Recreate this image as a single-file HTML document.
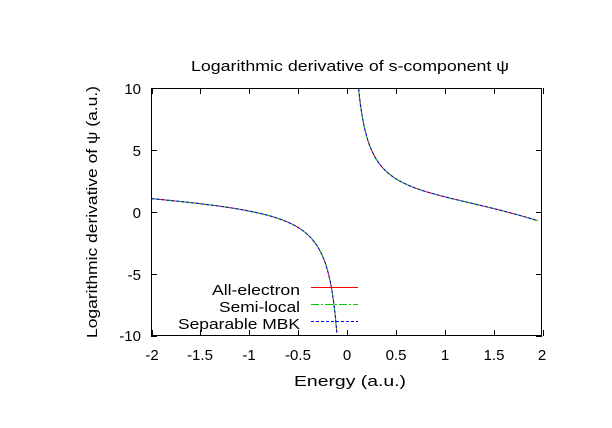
<!DOCTYPE html>
<html><head><meta charset="utf-8"><style>
html,body{margin:0;padding:0;background:#fff;}
svg{display:block;font-family:"Liberation Sans","DejaVu Sans",sans-serif;}
</style></head><body>
<svg id="s" width="612" height="428" viewBox="0 0 612 428" xmlns="http://www.w3.org/2000/svg">
<rect width="612" height="428" fill="#fff"/>
<g stroke="#000" stroke-width="1" fill="none">
<rect x="151.5" y="88.5" width="390" height="247"/>
</g>
<g id="ticks" stroke="#000" stroke-width="1"></g>
<g font-size="15" fill="#000" text-anchor="end">
<text x="141" y="94">10</text><text x="141" y="156">5</text><text x="141" y="218">0</text>
<text x="141" y="280">-5</text><text x="141" y="341">-10</text>
</g>
<g font-size="15" fill="#000" text-anchor="middle">
<text x="152" y="360">-2</text><text x="200" y="360">-1.5</text><text x="249" y="360">-1</text>
<text x="298" y="360">-0.5</text><text x="347" y="360">0</text><text x="396" y="360">0.5</text>
<text x="445" y="360">1</text><text x="494" y="360">1.5</text><text x="542" y="360">2</text>
<text x="350" y="71" textLength="318" lengthAdjust="spacingAndGlyphs">Logarithmic derivative of s-component ψ</text>
<text x="350" y="386" textLength="112" lengthAdjust="spacingAndGlyphs">Energy (a.u.)</text>
<text transform="translate(97,212) rotate(-90)" textLength="252" lengthAdjust="spacingAndGlyphs">Logarithmic derivative of ψ (a.u.)</text>
</g>
<g font-size="15" fill="#000" text-anchor="end">
<text x="300" y="295" textLength="88" lengthAdjust="spacingAndGlyphs">All-electron</text>
<text x="300" y="312" textLength="81" lengthAdjust="spacingAndGlyphs">Semi-local</text>
<text x="300" y="329" textLength="122" lengthAdjust="spacingAndGlyphs">Separable MBK</text>
</g>
<line x1="311" y1="287.5" x2="358" y2="287.5" stroke="#f00"/>
<line x1="311" y1="304.5" x2="358" y2="304.5" stroke="#0c0" stroke-dasharray="8,2,2,2"/>
<line x1="311" y1="321.5" x2="358" y2="321.5" stroke="#00f" stroke-dasharray="3,2"/>
<g id="curves" fill="none" stroke-width="1"></g>
</svg>
<script>
var X=function(e){return 347+e*97.75;},Y=function(v){return 212.3-v*12.4;};
var f=function(e){var v=1.1/e+0.75-0.45*e;if(e>0)v-=0.15*e*e*e;return v;};
var t=document.getElementById('ticks'),h='';
for(var i=0;i<9;i++){var x=Math.round(X(-2+i*0.5))+0.5;h+='<line x1="'+x+'" y1="336" x2="'+x+'" y2="330"/><line x1="'+x+'" y1="88" x2="'+x+'" y2="94"/>';}
for(var j=0;j<5;j++){var y=Math.round(Y(10-j*5))+0.5;h+='<line x1="151" y1="'+y+'" x2="157" y2="'+y+'"/><line x1="542" y1="'+y+'" x2="536" y2="'+y+'"/>';}
t.innerHTML=h;
function path(a,b){var p='',n=400;for(var k=0;k<=n;k++){var e=a+(b-a)*k/n;var v=f(e);if(v>10||v<-10)continue;p+=(p?'L':'M')+X(e).toFixed(1)+','+Y(v).toFixed(1);}return p;}
var d=path(-2,-0.1)+path(0.105,1.95);
var c=document.getElementById('curves');
c.innerHTML='<path d="'+d+'" stroke="#f00"/><path d="'+d+'" stroke="#0c0" stroke-dasharray="8,2,2,2"/><path d="'+d+'" stroke="#00f" stroke-dasharray="3,2"/>';
</script>
</body></html>
